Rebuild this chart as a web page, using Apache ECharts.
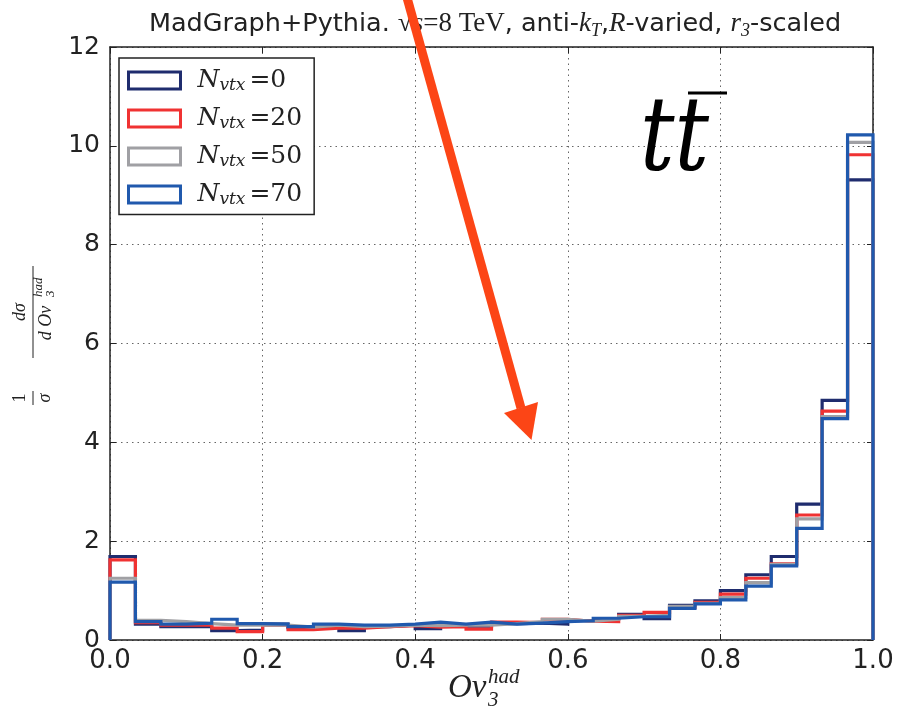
<!DOCTYPE html>
<html><head><meta charset="utf-8">
<script src="https://cdn.jsdelivr.net/npm/echarts@6/dist/echarts.min.js"></script>
<style>html,body{margin:0;padding:0;background:#fff}#c{width:900px;height:711px}</style>
</head><body><div id="c"></div>
<script>
// ---- data ----
var binCount = 30;           // bins over [0,1]
var seriesNames = ['N0', 'N20', 'N50', 'N70'];
var legendLabels = ['0', '20', '50', '70'];
var nvtx0  = [1.69,0.32,0.27,0.27,0.19,0.20,0.32,0.25,0.28,0.19,0.27,0.30,0.23,0.28,0.28,0.33,0.34,0.32,0.39,0.43,0.52,0.43,0.70,0.79,1.00,1.32,1.69,2.75,4.85,9.31];
var nvtx20 = [1.62,0.35,0.30,0.30,0.24,0.17,0.30,0.21,0.24,0.24,0.27,0.29,0.26,0.27,0.22,0.36,0.35,0.42,0.38,0.37,0.50,0.56,0.66,0.76,0.93,1.25,1.54,2.53,4.63,9.82];
var nvtx50 = [1.25,0.40,0.37,0.33,0.30,0.30,0.30,0.26,0.30,0.27,0.28,0.30,0.29,0.30,0.30,0.33,0.37,0.42,0.38,0.42,0.48,0.50,0.68,0.74,0.86,1.16,1.53,2.45,4.52,10.07];
var nvtx70 = [1.17,0.37,0.32,0.34,0.42,0.33,0.32,0.27,0.32,0.30,0.30,0.32,0.36,0.32,0.36,0.32,0.34,0.37,0.39,0.44,0.47,0.47,0.64,0.73,0.81,1.09,1.50,2.26,4.48,10.22];
var xTicks = [0.0, 0.2, 0.4, 0.6, 0.8, 1.0];
var yTicks = [0, 2, 4, 6, 8, 10, 12];
var colors = ['#1f2c6e', '#f03232', '#a0a0a4', '#2059ad'];

function stepData(vals) {
  var pts = [[0, 0]];
  for (var i = 0; i < vals.length; i++) pts.push([i / binCount, vals[i]]);
  pts.push([1, vals[vals.length - 1]]);
  pts.push([1, 0]);
  return pts;
}
var allVals = [nvtx0, nvtx20, nvtx50, nvtx70];

var chart = echarts.init(document.getElementById('c'), null, {renderer: 'canvas'});
var serif = '"DejaVu Serif", serif';
var lserif = '"Liberation Serif", serif';
var sans = '"DejaVu Sans", sans-serif';

var series = allVals.map(function (v, k) {
  return {
    name: seriesNames[k], type: 'line', step: 'end', data: stepData(v),
    symbol: 'none', z: 3 + k,
    lineStyle: {color: colors[k], width: 3.2, join: 'miter'},
    itemStyle: {color: '#fff', borderColor: colors[k], borderWidth: 3},
    emphasis: {disabled: true}, animation: false
  };
});

var axisCommon = {
  axisLine: {show: true, onZero: false, lineStyle: {color: '#222', width: 1.5}},
  axisTick: {show: true, inside: true, length: 6, lineStyle: {color: '#222', width: 1}}
};

chart.setOption({
  animation: false,
  title: {
    left: 490, textAlign: 'center', top: 3,
    text: '{a|MadGraph+Pythia. }{m|√}{ms|s}{m|=8 TeV}{a|, anti-}{i|k}{sub|T}{a|,}{i|R}{a|-varied, }{i|r}{sub|3}{a|-scaled}',
    textStyle: {
      fontWeight: 'normal',
      rich: {
        a: {fontFamily: sans, fontWeight: 'normal', fontSize: 25.5, color: '#222', lineHeight: 32},
        m: {fontFamily: lserif, fontWeight: 'normal', fontSize: 27, color: '#222', lineHeight: 32},
        ms: {fontFamily: lserif, fontWeight: 'normal', fontStyle: 'italic', fontSize: 27, color: '#222', lineHeight: 32},
        i: {fontFamily: lserif, fontWeight: 'normal', fontStyle: 'italic', fontSize: 27, color: '#222', lineHeight: 32},
        sub: {fontFamily: lserif, fontWeight: 'normal', fontStyle: 'italic', fontSize: 18, color: '#222', verticalAlign: 'bottom', lineHeight: 20}
      }
    }
  },
  legend: {
    left: 119, top: 58, orient: 'vertical',
    padding: [10, 12, 6, 8], itemGap: 11.5, itemWidth: 52, itemHeight: 17,
    borderColor: '#222', borderWidth: 1.5, backgroundColor: '#fff',
    icon: 'rect',
    data: seriesNames.map(function (n, k) {
      return {name: n, itemStyle: {color: '#fff', borderColor: colors[k], borderWidth: 3}};
    }),
    formatter: function (name) {
      var k = seriesNames.indexOf(name);
      return '{n|N}{s|vtx}{e|=' + legendLabels[k] + '}';
    },
    textStyle: {
      padding: [0, 0, 0, 12],
      rich: {
        n: {fontFamily: serif, fontStyle: 'italic', fontSize: 25, color: '#222', lineHeight: 28},
        s: {fontFamily: serif, fontStyle: 'italic', fontSize: 17, color: '#222', verticalAlign: 'bottom', lineHeight: 17, padding: [0, 4, 0, 0]},
        e: {fontFamily: serif, fontSize: 25, color: '#222', lineHeight: 28}
      }
    },
    selectedMode: false, z: 10
  },
  grid: {left: 110, right: 27, top: 47, bottom: 71, show: false},
  xAxis: [
    Object.assign({
      type: 'value', min: 0, max: 1, interval: 0.2, position: 'bottom',
      axisLabel: {fontSize: 26, color: '#222', fontFamily: sans, margin: 8,
        formatter: function (v) { return v.toFixed(1); }},
      splitLine: {show: true, lineStyle: {color: '#666', width: 1, type: [1.5, 4]}}
    }, axisCommon),
    Object.assign({
      type: 'value', min: 0, max: 1, interval: 0.2, position: 'top',
      axisLabel: {show: false}, splitLine: {show: false}
    }, axisCommon)
  ],
  yAxis: [
    Object.assign({
      type: 'value', min: 0, max: 12, interval: 2, position: 'left',
      axisLabel: {fontSize: 25, color: '#222', fontFamily: sans, margin: 10},
      splitLine: {show: true, lineStyle: {color: '#666', width: 1, type: [1.5, 4]}}
    }, axisCommon),
    Object.assign({
      type: 'value', min: 0, max: 12, interval: 2, position: 'right',
      axisLabel: {show: false}, splitLine: {show: false}
    }, axisCommon)
  ],
  series: series
});

// ---- annotations (text and overlay arrow) ----
var arrowColor = '#fc4516';
chart.setOption({
  graphic: [
    // x axis name Ov_3^had
    {type: 'text', left: 448, top: 672, style: {text: 'Ov', font: 'italic 33px ' + lserif, fill: '#222'}},
    {type: 'text', left: 488, top: 667, style: {text: 'had', font: 'italic 21px ' + lserif, fill: '#222'}},
    {type: 'text', left: 488, top: 690, style: {text: '3', font: 'italic 21px ' + lserif, fill: '#222'}},
    // y axis name (rotated fractions)
    {
      type: 'group', x: 33, y: 345, rotation: Math.PI / 2,
      children: [
        {type: 'text', x: -53, y: -13, style: {text: '1', font: '18px ' + lserif, fill: '#222', align: 'center', verticalAlign: 'middle'}},
        {type: 'line', shape: {x1: -60, y1: 0, x2: -46, y2: 0}, style: {stroke: '#222', lineWidth: 1}},
        {type: 'text', x: -53, y: 12, style: {text: 'σ', font: 'italic 18px ' + lserif, fill: '#222', align: 'center', verticalAlign: 'middle'}},
        {type: 'text', x: 33, y: -13, style: {text: 'dσ', font: 'italic 18px ' + lserif, fill: '#222', align: 'center', verticalAlign: 'middle'}},
        {type: 'line', shape: {x1: -13, y1: 0, x2: 79, y2: 0}, style: {stroke: '#222', lineWidth: 1}},
        {type: 'text', x: 22, y: 13, style: {text: 'd Ov', font: 'italic 18px ' + lserif, fill: '#222', align: 'center', verticalAlign: 'middle'}},
        {type: 'text', x: 48, y: 18, style: {text: '3', font: 'italic 13px ' + lserif, fill: '#222', align: 'left', verticalAlign: 'middle'}},
        {type: 'text', x: 48, y: 6, style: {text: 'had', font: 'italic 13px ' + lserif, fill: '#222', align: 'left', verticalAlign: 'middle'}}
      ]
    },
    // big t tbar label
    {type: 'text', x: 640, y: 195, scaleY: 1.2, z: 20, style: {text: 'tt', font: 'italic 86px ' + serif, fill: '#000', verticalAlign: 'bottom'}},
    {type: 'line', z: 20, shape: {x1: 688, y1: 93, x2: 727, y2: 93}, style: {stroke: '#000', lineWidth: 3}},
    // overlay arrow
    {type: 'line', z: 30, shape: {x1: 406, y1: -6, x2: 521, y2: 408}, style: {stroke: arrowColor, lineWidth: 9}},
    {type: 'polygon', z: 30, shape: {points: [[531.5, 440], [504, 413], [538, 402]]}, style: {fill: arrowColor}}
  ]
});
</script>
</body></html>
